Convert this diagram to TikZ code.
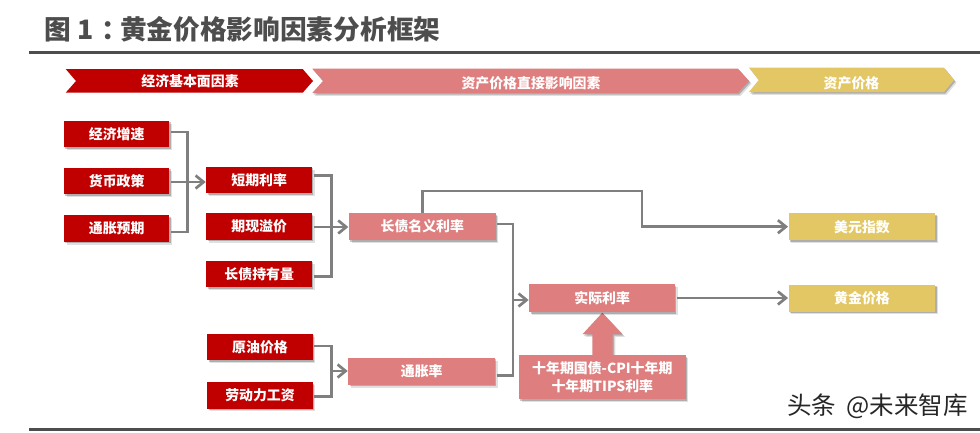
\documentclass[tikz,border=0pt]{standalone}
\usepackage{fontspec}
\setmainfont{Noto Sans CJK SC}
\usetikzlibrary{arrows.meta,shadows,calc}
\definecolor{cred}{HTML}{C00000}
\definecolor{cpink}{HTML}{DF7E7E}
\definecolor{cgold}{HTML}{E3C765}
\definecolor{cline}{HTML}{7F7F7F}
\definecolor{cdark}{HTML}{4D4D4D}
\tikzset{
  softshadow/.style={
    drop shadow={shadow xshift=2.6pt,shadow yshift=-2.8pt,fill=black,opacity=.12},
    drop shadow={shadow xshift=1.3pt,shadow yshift=-1.5pt,fill=black,opacity=.22}},
  basebox/.style={inner sep=0pt,text=white,font=\fontsize{13.9}{18}\selectfont\bfseries,align=center,softshadow},
  redbox/.style={basebox,fill=cred,minimum width=105.5pt,minimum height=26.5pt},
  pinkbox/.style={basebox,fill=cpink,minimum width=146.5pt,minimum height=27pt},
  goldbox/.style={basebox,fill=cgold,minimum width=146.5pt,minimum height=27pt},
  headtext/.style={inner sep=0pt,text=white,font=\fontsize{13.9}{16}\selectfont\bfseries},
  link/.style={draw=cline,line width=2.7pt},
  linkarrow/.style={link,-{Straight Barb[length=8pt,width=13pt,line width=2.7pt]},shorten >=0.5pt},
  rule/.style={draw=cdark,line width=3pt}
}
\begin{document}
\begin{tikzpicture}[x=1pt,y=-1pt]
\useasboundingbox (0,0) rectangle (980,432);
\fill[white] (0,0) rectangle (980,432);

% title and rules
\node[anchor=west,inner sep=0pt,text=cdark,font=\fontsize{26.7}{30}\selectfont\bfseries] (title) at (44,29.5) {图 1\kern8pt：\kern-8pt 黄金价格影响因素分析框架};
\coordinate (r1a) at (29,52.5); \coordinate (r1b) at (980,52.5);
\coordinate (r2a) at (29,429.5); \coordinate (r2b) at (980,429.5);
\draw[rule] (r1a) -- (r1b);
\draw[rule] (r2a) -- (r2b);

% header chevrons
\fill[cgold,softshadow] (749,67.7) -- (944,67.7) -- (954,80) -- (944,92) -- (749,92) -- (758.7,80) -- cycle;
\fill[cpink,softshadow] (312.3,68.7) -- (738,68.7) -- (749,81) -- (738,93) -- (312.3,93) -- (323,81) -- cycle;
\fill[cred] (65.7,69) -- (302.7,69) -- (313,81) -- (302.7,92.7) -- (65.7,92.7) -- (76,81) -- cycle;
\node[headtext] (h1) at (190,80.7) {经济基本面因素};
\node[headtext] (h2) at (531,83) {资产价格直接影响因素};
\node[headtext] (h3) at (851.5,83) {资产价格};

% column 1
\node[redbox] (a1) at (116.7,134) {经济增速};
\node[redbox] (a2) at (116.7,181) {货币政策};
\node[redbox] (a3) at (116.7,228.5) {通胀预期};
% column 2
\node[redbox] (b1) at (259.2,180) {短期利率};
\node[redbox] (b2) at (259.2,226.5) {期现溢价};
\node[redbox] (b3) at (259.2,274) {长债持有量};
\node[redbox] (b4) at (260,347.2) {原油价格};
\node[redbox] (b5) at (260,395.3) {劳动力工资};
% column 3
\node[pinkbox] (c1) at (422.3,226.5) {长债名义利率};
\node[pinkbox] (c2) at (421.7,371.3) {通胀率};
% column 4
\fill[cpink,softshadow] (602.3,312.7) -- (622.3,334) -- (612.7,334) -- (612.7,356) -- (592.3,356) -- (592.3,334) -- (582.7,334) -- cycle;
\node[pinkbox,minimum width=145.7pt,minimum height=28pt] (d1) at (602.2,298) {实际利率};
\node[pinkbox,minimum width=166.7pt,minimum height=44pt] (d2) at (602.3,377) {十年期国债-CPI十年期\\十年期TIPS利率};
% column 5
\node[goldbox] (e1) at (862,226.7) {美元指数};
\node[goldbox] (e2) at (862,298) {黄金价格};

% junction points
\coordinate (ja) at (187.5,182);
\coordinate (jb) at (331.5,227);
\coordinate (jc) at (331.5,371);
\coordinate (jd) at (513,300);
\coordinate (u1) at (422.3,191);
\coordinate (u2) at (642,191);

% connectors
\draw[link] ([shift={(1.5,-2)}]a1.east) -| (ja);
\draw[link] ([shift={(1.5,3.5)}]a3.east) -| (ja);
\draw[linkarrow] ([xshift=1.5pt]a2.east |- ja) -- (ja -| b1.west);

\draw[link] ([shift={(1.5,-4.2)}]b1.east) -| (jb);
\draw[link] ([shift={(1.5,2.7)}]b3.east) -| (jb);
\draw[linkarrow] ([xshift=1.5pt]b2.east |- jb) -- (jb -| c1.west);

\draw[link] ([shift={(1.5,-1.2)}]b4.east) -| (jc);
\draw[link] ([shift={(1.5,1)}]b5.east) -| (jc);
\draw[linkarrow] (jc) -- (jc -| c2.west);

\draw[link] ([shift={(1.5,-2.5)}]c1.east) -| (jd);
\draw[link] ([shift={(1.5,4)}]c2.east) -| (jd);
\draw[linkarrow] (jd) -- (jd -| d1.west);

\draw[linkarrow] (c1.north) -- (u1) -- (u2) |- (e1.west);
\draw[linkarrow] ([xshift=1.5pt]d1.east) -- (e2.west);

% watermark
\node[anchor=west,inner sep=0pt,text=black!85,font=\fontsize{24.5}{26}\selectfont] (wm) at (787,406.5) {头条 \kern5pt @未来智库};
\end{tikzpicture}
\end{document}
